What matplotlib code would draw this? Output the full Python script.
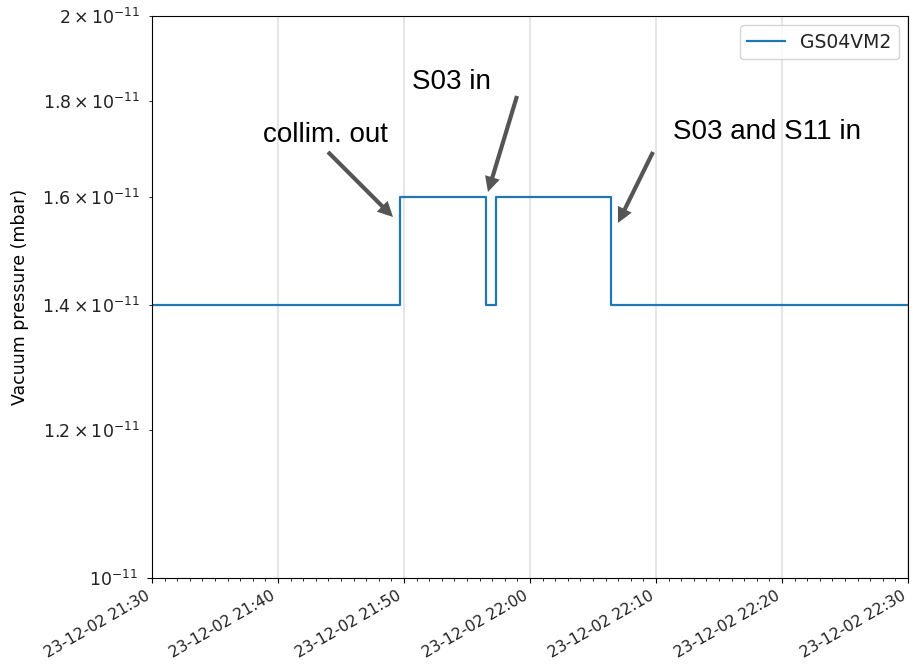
import matplotlib
matplotlib.use("Agg")
import matplotlib.pyplot as plt
import matplotlib.dates as mdates
import pandas as pd

# Vacuum gauge GS04VM2 readings (step changes)
change_times = ["2023-12-02 21:30:00", "2023-12-02 21:49:41", "2023-12-02 21:56:30",
                "2023-12-02 21:57:18", "2023-12-02 22:06:26", "2023-12-02 22:30:00"]
pressure_mbar = [1.4e-11, 1.6e-11, 1.4e-11, 1.6e-11, 1.4e-11, 1.4e-11]
series_name = "GS04VM2"

y_ticks = [1.2e-11, 1.4e-11, 1.6e-11, 1.8e-11, 2.0e-11]
y_tick_labels = [r"$\mathdefault{1.2\times10^{-11}}$", r"$\mathdefault{1.4\times10^{-11}}$",
                 r"$\mathdefault{1.6\times10^{-11}}$", r"$\mathdefault{1.8\times10^{-11}}$",
                 r"$\mathdefault{2\times10^{-11}}$"]

# Annotation labels: text, text position, arrow tail, arrow tip (axes fraction)
notes = [
    ("collim. out", (0.1468, 0.7758), (0.2328, 0.7580), (0.3188, 0.6423)),
    ("S03 in", (0.3439, 0.8701), (0.4828, 0.8577), (0.4444, 0.6868)),
    ("S03 and S11 in", (0.6892, 0.7811), (0.6627, 0.7580), (0.6164, 0.6317)),
]

plt.rcParams["font.size"] = 12
plt.rcParams["text.color"] = "#222222"
plt.rcParams["xtick.labelcolor"] = "#222222"
plt.rcParams["ytick.labelcolor"] = "#222222"

t = pd.to_datetime(change_times)

fig = plt.figure(figsize=(9.13, 6.66), dpi=100)
ax = fig.add_axes([152 / 913, 88 / 666, 756 / 913, 562 / 666])

ax.plot(t, pressure_mbar, drawstyle="steps-post", color="#1f77b4", lw=1.6, label=series_name)

ax.set_yscale("log")
ax.set_ylim(1e-11, 2e-11)
ax.set_yticks(y_ticks, minor=True)
ax.set_yticklabels(y_tick_labels, minor=True)
ax.tick_params(axis="y", which="both", labelsize=12.5)
ax.tick_params(axis="y", which="minor", pad=6.5)
ax.tick_params(axis="y", which="major", pad=6.5)
ax.set_ylabel("Vacuum pressure (mbar)", fontsize=12.5, labelpad=10)

ax.set_xlim(t[0], t[-1])
ax.xaxis.set_major_locator(mdates.MinuteLocator(byminute=range(0, 60, 10)))
ax.xaxis.set_minor_locator(mdates.MinuteLocator())
ax.xaxis.set_major_formatter(mdates.DateFormatter("%y-%m-%d %H:%M"))
ax.tick_params(axis="x", which="major", labelsize=11.2)
for lab in ax.get_xticklabels():
    lab.set_rotation(30)
    lab.set_ha("right")

ax.grid(True, axis="x", which="major", color="#e0e0e0", lw=1.2)
ax.legend(loc="upper right", fontsize=13.5)

for text, tpos, tail, tip in notes:
    ax.text(tpos[0], tpos[1], text, transform=ax.transAxes, fontsize=20, color="black",
            family="Liberation Sans", ha="left", va="baseline")
    ax.annotate("", xy=tip, xycoords="axes fraction", xytext=tail, textcoords="axes fraction",
                arrowprops=dict(width=3, headwidth=11, headlength=11,
                                facecolor="#555555", edgecolor="none"))

fig.savefig("out.png", dpi=100)
